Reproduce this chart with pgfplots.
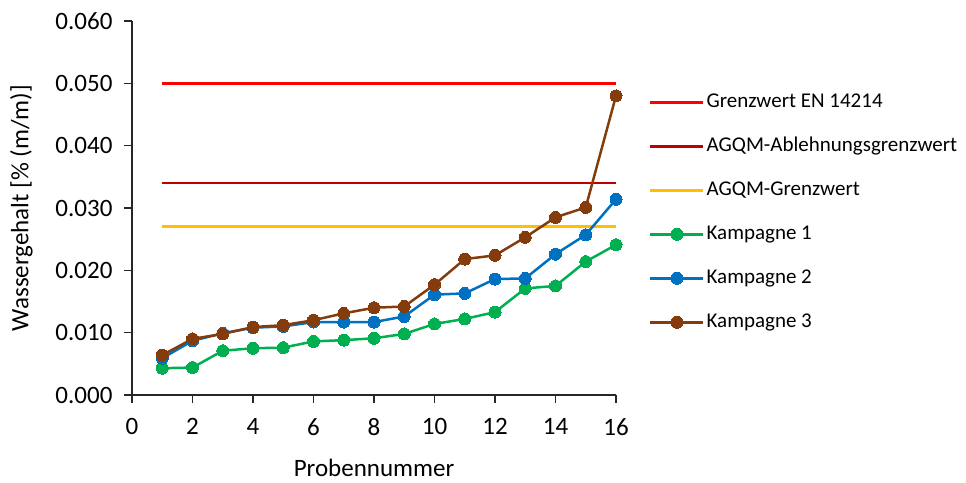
\documentclass[border=0pt]{standalone}
\usepackage{pgfplots}
\pgfplotsset{compat=1.18}
\usepackage{fontspec}
\setmainfont{Carlito}
\definecolor{cRed}{HTML}{FF0000}
\definecolor{cDRed}{HTML}{C00000}
\definecolor{cYel}{HTML}{FFC000}
\definecolor{cGreen}{HTML}{00B050}
\definecolor{cBlue}{HTML}{0070C0}
\definecolor{cBrown}{HTML}{843C0C}
\begin{document}
\begin{tikzpicture}
\useasboundingbox (0,0) rectangle (966pt,482pt);
\begin{axis}[
  at={(132pt,87pt)}, anchor=south west,
  scale only axis, width=484pt, height=374pt,
  xmin=0, xmax=16, ymin=0, ymax=0.06,
  xtick={0,2,...,16},
  ytick={0,0.01,0.02,0.03,0.04,0.05,0.06},
  axis lines*=left,
  axis line style={line width=1.5pt, black!85, -},
  tick style={line width=1.5pt, black!85},
  tick align=outside,
  major tick length=8pt,
  /pgf/number format/assume math mode=true,
  yticklabel style={/pgf/number format/fixed, /pgf/number format/fixed zerofill, /pgf/number format/precision=3, xshift=-8pt},
  scaled y ticks=false,
  ticklabel style={font=\fontsize{25}{30}\selectfont},
  xticklabel style={yshift=-12pt},
  xlabel={Probennummer},
  ylabel={Wassergehalt [\% (m/m)]},
  label style={font=\fontsize{25}{30}\selectfont},
  xlabel style={yshift=-16pt},
  ylabel style={yshift=16pt},
  legend style={at={(1.068,0.81)}, anchor=north west, draw=none, fill=none,
    font=\fontsize{21}{25}\selectfont, inner sep=0pt, row sep=24pt,
    nodes={text height=15pt, text depth=5pt, inner sep=0pt}},
  legend cell align=left,
  legend image code/.code={
    \draw[#1, mark repeat=2, mark phase=2] plot coordinates {(0pt,0pt) (26.5pt,0pt) (53pt,0pt)};
  },
  every axis plot/.append style={line width=2.5pt},
]
\addplot[cRed, no marks] coordinates {(1,0.050) (16,0.050)};
\addlegendentry{\hspace{2pt}Grenzwert EN 14214}
\addplot[cDRed, no marks] coordinates {(1,0.034) (16,0.034)};
\addlegendentry{\hspace{2pt}AGQM-Ablehnungsgrenzwert}
\addplot[cYel, no marks] coordinates {(1,0.027) (16,0.027)};
\addlegendentry{\hspace{2pt}AGQM-Grenzwert}
\addplot[cGreen, mark=*, mark size=6pt, mark options={solid, fill=cGreen, draw=cGreen, line width=0pt}] coordinates {
(1,0.0043) (2,0.0044) (3,0.0071) (4,0.0075) (5,0.0076) (6,0.0086) (7,0.0088) (8,0.0091)
(9,0.0098) (10,0.0114) (11,0.0122) (12,0.0133) (13,0.0171) (14,0.0175) (15,0.0214) (16,0.0241)};
\addlegendentry{\hspace{2pt}Kampagne 1}
\addplot[cBlue, mark=*, mark size=6pt, mark options={solid, fill=cBlue, draw=cBlue, line width=0pt}] coordinates {
(1,0.0059) (2,0.0087) (3,0.0099) (4,0.0108) (5,0.0110) (6,0.0117) (7,0.0117) (8,0.0117)
(9,0.0126) (10,0.0161) (11,0.0163) (12,0.0186) (13,0.0187) (14,0.0226) (15,0.0257) (16,0.0314)};
\addlegendentry{\hspace{2pt}Kampagne 2}
\addplot[cBrown, mark=*, mark size=6pt, mark options={solid, fill=cBrown, draw=cBrown, line width=0pt}] coordinates {
(1,0.0064) (2,0.0090) (3,0.0098) (4,0.0109) (5,0.0112) (6,0.0120) (7,0.0131) (8,0.0140)
(9,0.0142) (10,0.0177) (11,0.0218) (12,0.0224) (13,0.0253) (14,0.0285) (15,0.0301) (16,0.0480)};
\addlegendentry{\hspace{2pt}Kampagne 3}
\end{axis}
\end{tikzpicture}
\end{document}
